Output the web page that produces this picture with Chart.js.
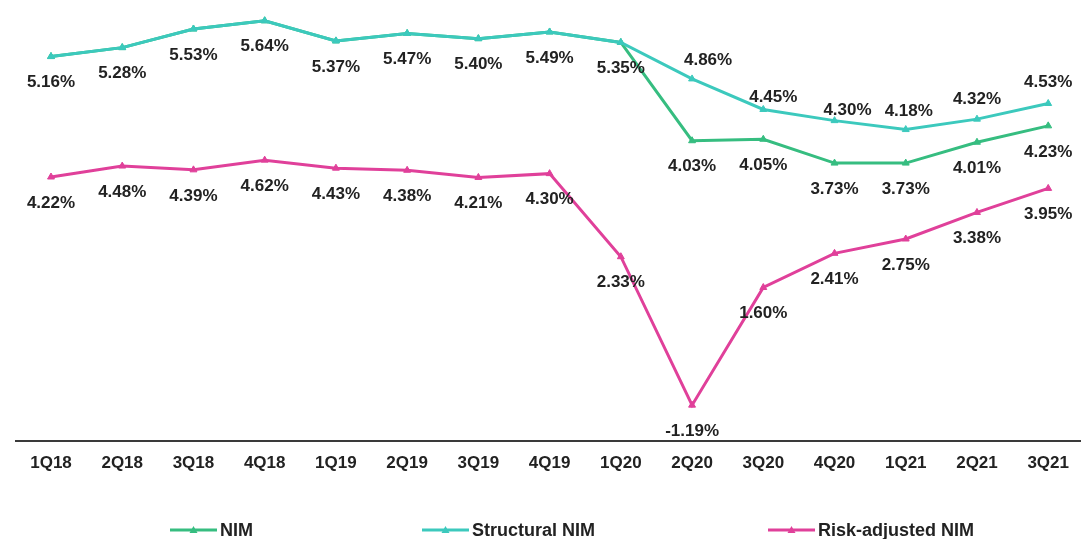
<!DOCTYPE html>
<html>
<head>
<meta charset="utf-8">
<script src="https://cdn.jsdelivr.net/npm/chart.js@4.4.1/dist/chart.umd.min.js"></script>
<style>
  body { margin:0; background:#fff; overflow:hidden; }
  #wrap { position:relative; width:1081px; height:539px; }
  #legend { position:absolute; left:0; top:519px; width:1081px; height:22px;
            font:bold 18px "Liberation Sans", Arial, sans-serif; color:#222; }
  .lg { position:absolute; top:0; display:flex; align-items:center; height:22px; white-space:nowrap; }
  .lg svg { margin-right:3px; }
</style>
</head>
<body>
<div id="wrap">
  <canvas id="c" width="1081" height="539"></canvas>
  <div id="legend"></div>
</div>
<script>
/* NIM chart data */
const quarters = ['1Q18','2Q18','3Q18','4Q18','1Q19','2Q19','3Q19','4Q19','1Q20','2Q20','3Q20','4Q20','1Q21','2Q21','3Q21'];
const nim = [5.16, 5.28, 5.53, 5.64, 5.37, 5.47, 5.40, 5.49, 5.35, 4.03, 4.05, 3.73, 3.73, 4.01, 4.23];
const structuralNim = [5.16, 5.28, 5.53, 5.64, 5.37, 5.47, 5.40, 5.49, 5.35, 4.86, 4.45, 4.30, 4.18, 4.32, 4.53];
const riskAdjNim = [4.22, 4.48, 4.39, 4.62, 4.43, 4.38, 4.21, 4.30, 2.33, -1.19, 1.60, 2.41, 2.75, 3.38, 3.95];

const GREEN = '#36bd80', TEAL = '#3cc9bd', PINK = '#e0409a';
const FONT = '"Liberation Sans", Arial, sans-serif';

// label offset per point (dx, dy from point to text centre)
function belowLbl(){ return [0, 26]; }
function structLbl(i){
  if (i <= 8) return [0, 26];
  const offs = {9:[16,-19], 10:[10,-12], 11:[13,-10], 12:[3,-18], 13:[0,-20], 14:[0,-21]};
  return offs[i];
}

const labelPlugin = {
  id: 'valueLabels',
  afterDatasetsDraw(chart){
    const ctx = chart.ctx;
    ctx.save();
    ctx.font = 'bold 17px ' + FONT;
    ctx.fillStyle = '#222';
    ctx.textAlign = 'center';
    ctx.textBaseline = 'middle';
    chart.data.datasets.forEach((ds, di)=>{
      const meta = chart.getDatasetMeta(di);
      meta.data.forEach((pt, i)=>{
        if (i < (ds.labelFrom || 0)) return;
        const [dx, dy] = ds.labelOffset(i);
        ctx.fillText(ds.data[i].toFixed(2) + '%', pt.x + dx, pt.y + dy);
      });
    });
    ctx.restore();
  }
};

const axisLinePlugin = {
  id: 'axisLine',
  beforeDatasetsDraw(chart){
    const ctx = chart.ctx, y = chart.chartArea.bottom;
    ctx.save();
    ctx.strokeStyle = '#3a3a3a';
    ctx.lineWidth = 2;
    ctx.beginPath(); ctx.moveTo(15, y); ctx.lineTo(1081, y); ctx.stroke();
    ctx.restore();
  }
};

function lineDs(label, data, color, axis, extra){
  return Object.assign({
    label, data, yAxisID: axis,
    borderColor: color, backgroundColor: color,
    borderWidth: 3, pointStyle: 'triangle', pointRadius: 4,
    pointBorderWidth: 1, tension: 0
  }, extra);
}

new Chart(document.getElementById('c'), {
  type: 'line',
  data: {
    labels: quarters,
    datasets: [
      lineDs('NIM', nim, GREEN, 'y', { order: 2, labelFrom: 9, labelOffset: belowLbl }),
      lineDs('Structural NIM', structuralNim, TEAL, 'y', { order: 1, labelOffset: structLbl }),
      lineDs('Risk-adjusted NIM', riskAdjNim, PINK, 'y2', { order: 0, labelOffset: belowLbl })
    ]
  },
  options: {
    responsive: false,
    animation: false,
    layout: { padding: { top: 5, left: 51, right: 28, bottom: 0 } },
    plugins: { legend: { display: false }, tooltip: { enabled: false } },
    scales: {
      x: {
        offset: false,
        grid: { display: false, drawTicks: false },
        border: { display: false },
        ticks: { color: '#222', padding: 12, font: { family: FONT, size: 17, weight: 'bold' } },
        afterFit(s){ s.height = 98; }
      },
      y: { display: false, min: 0, max: 5.852 },
      y2: { display: false, min: -2.04, max: 8.299 }
    }
  },
  plugins: [labelPlugin, axisLinePlugin]
});

// legend
const legendItems = [['NIM', GREEN, 170], ['Structural NIM', TEAL, 422], ['Risk-adjusted NIM', PINK, 768]];
const legendEl = document.getElementById('legend');
for (const [name, color, left] of legendItems) {
  const d = document.createElement('div');
  d.className = 'lg';
  d.style.left = left + 'px';
  d.innerHTML = `<svg width="47" height="10"><line x1="0" y1="5" x2="47" y2="5" stroke="${color}" stroke-width="3"/>` +
    `<polygon points="23.5,1 27.5,8 19.5,8" fill="${color}"/></svg><span>${name}</span>`;
  legendEl.appendChild(d);
}
</script>
</body>
</html>
